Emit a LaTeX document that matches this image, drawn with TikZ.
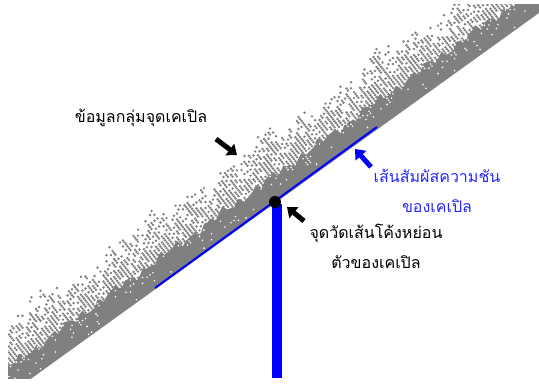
\documentclass[tikz,border=0pt]{standalone}
\usepackage{fontspec}
\newfontfamily\thai[Script=Thai]{Loma}
\usetikzlibrary{arrows.meta}
\definecolor{bandgray}{RGB}{128,128,128}
\definecolor{labelblue}{RGB}{40,40,255}
\definecolor{lineblue}{RGB}{0,0,255}
\begin{document}
\begin{tikzpicture}[x=1pt,y=-1pt,
  lbl/.style={font=\thai\fontsize{16}{30}\selectfont, align=center, inner sep=0pt},
  callout/.style={line width=5pt, -{Triangle[length=9pt,width=14pt]}},
  declare function={L(\x)=203-0.72*(\x-275);
                    S(\x)=28+3*sin(23*\x)+2*sin(41*mod(\x,360)+10)+2*sin(7*\x);}]
\useasboundingbox (0,0) rectangle (539,385);
\fill[white] (0,0) rectangle (539,385);
% point cloud band
\begin{scope}
\clip (8,5) rectangle (539,378);
\fill[bandgray] plot[domain=0:545,samples=180] (\x,{L(\x)-S(\x)}) -- (545,{L(545)}) -- (0,{L(0)}) -- cycle;
\pgfmathsetseed{11}
\foreach \i in {0,...,178}{
  \foreach \j in {0,...,29}{
    \pgfmathsetmacro\xx{6+3*\i+1.5*mod(\j,2)}
    \pgfmathsetmacro\dd{3*\j}
    \pgfmathsetmacro\Sv{S(\xx)}
    \pgfmathsetmacro\T{74+7*sin(3.1*\xx)+5*sin(9.7*\xx+50)+4*sin(27*\xx)}
    \pgfmathsetmacro\q{max(0,(\dd-\Sv)/(\T-\Sv))}
    \pgfmathsetmacro\m{cos(20*(\xx-\dd)+40*sin(5*\xx))^2}
    \pgfmathsetmacro\r{rnd}
    \pgfmathtruncatemacro\kind{(\dd<\Sv) ? ((\r<0.22*\dd/\Sv) ? 2 : 0) : (((\dd<\T) && (\r<0.97*(1-\q*\q*\q)*(1-0.75*sqrt(\q)*(1-\m)))) ? 1 : 0)}
    \ifnum\kind=1 \fill[bandgray] (\xx,{L(\xx)-\dd}) circle (1.35);\fi
    \ifnum\kind=2 \fill[white] (\xx,{L(\xx)-\dd}) circle (0.9);\fi
  }
}
\end{scope}
% tangent line
\coordinate (t1) at (155,288);
\coordinate (t2) at (377,127);
\draw[lineblue, line width=2pt] (t1) -- (t2);
% vertical bar and measuring point
\coordinate (bt) at (277,204);
\coordinate (bb) at (277,378);
\draw[lineblue, line width=10pt] (bt) -- (bb);
\node[circle, fill=black, minimum size=12pt, inner sep=0pt] (p) at (275,202) {};
% callout arrows
\coordinate (a1s) at (216,139); \coordinate (a1e) at (237,155);
\coordinate (a2s) at (371,167); \coordinate (a2e) at (355,149);
\coordinate (a3s) at (304,221); \coordinate (a3e) at (287,207);
\draw[callout, black] (a1s) -- (a1e);
\draw[callout, lineblue] (a2s) -- (a2e);
\draw[callout, black] (a3s) -- (a3e);
% labels
\node[lbl] (cloud) at (141,118) {ข้อมูลกลุ่มจุดเคเปิล};
\node[lbl, text=labelblue] (tangent) at (437,191) {เส้นสัมผัสความชัน\\ของเคเปิล};
\node[lbl] (sag) at (376,246) {จุดวัดเส้นโค้งหย่อน\\ตัวของเคเปิล};
\end{tikzpicture}
\end{document}
